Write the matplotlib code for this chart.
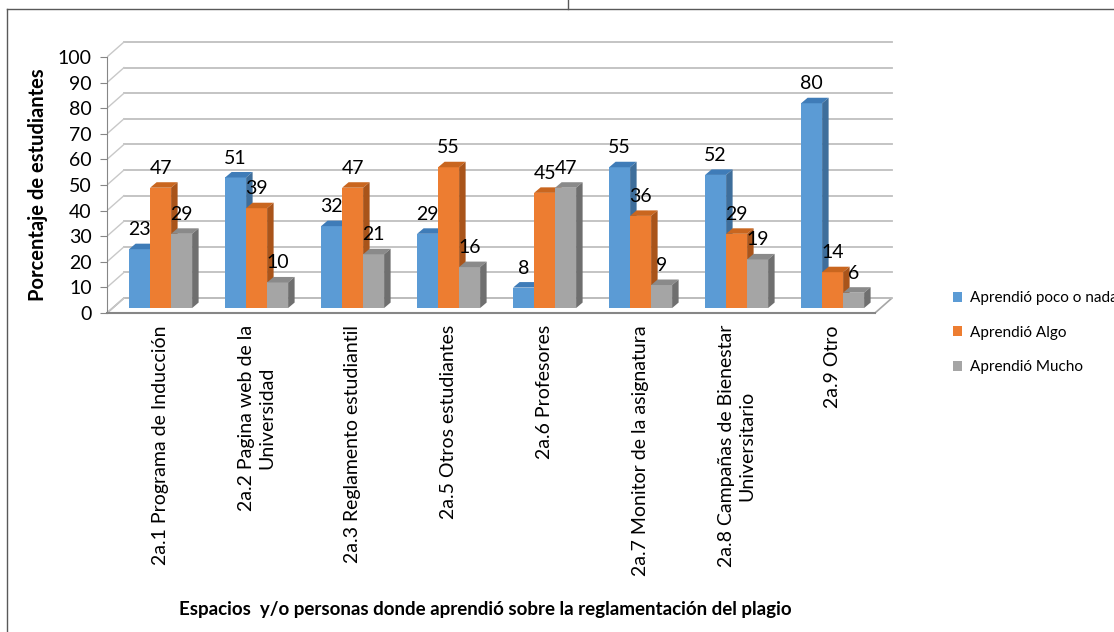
import matplotlib
matplotlib.use("Agg")
import matplotlib.pyplot as plt
from matplotlib.patches import Polygon, Patch
from matplotlib.lines import Line2D

plt.rcParams['font.family'] = ['Lato', 'DejaVu Sans']

categorias = [
    "2a.1 Programa de Inducción",
    "2a.2 Pagina web de la\nUniversidad",
    "2a.3 Reglamento estudiantil",
    "2a.5 Otros estudiantes",
    "2a.6 Profesores",
    "2a.7 Monitor de la asignatura",
    "2a.8 Campañas de Bienestar\nUniversitario",
    "2a.9 Otro",
]
series = ["Aprendió poco o nada", "Aprendió Algo", "Aprendió Mucho"]
poco = [23, 51, 32, 29, 8, 55, 52, 80]
algo = [47, 39, 47, 55, 45, 36, 29, 14]
mucho = [29, 10, 21, 16, 47, 9, 19, 6]
valores = [poco, algo, mucho]
yticks = list(range(0, 101, 10))

# colores: cara frontal, tapa, lateral
frente = ['#5B9BD5', '#ED7D31', '#A5A5A5']
tapa = ['#3F7CB8', '#C9661F', '#8A8A8A']
lado = ['#3E6E9B', '#A9541A', '#6F6F6F']

W, H = 1114, 632
fig = plt.figure(figsize=(W / 100, H / 100), dpi=100)
fig.patch.set_facecolor('white')

# ejes: x en categorias (96 px cada una), y en porcentaje (2.56 px por punto)
px_cat, px_pct = 96.0, 2.56
x_px0, y_px0 = 107, 313
ax_w, ax_h = 803, 278
ax = fig.add_axes([x_px0 / W, 1 - y_px0 / H, ax_w / W, ax_h / H])
ax.set_xlim(-0.5, -0.5 + ax_w / px_cat)
ax.set_ylim(0, ax_h / px_pct)
ax.patch.set_alpha(0)

# profundidad de las paredes y de las barras
dxw, dyw = 17 / px_cat, 15 / px_pct
f = 0.33
bx, by = f * dxw, f * dyw
ancho = 21 / px_cat
bdx, bdy = 6.5 / px_cat, 5.5 / px_pct
n = len(categorias)

# piso
piso = Polygon([(-0.5, 0), (n - 0.5, 0), (n - 0.5 + dxw, dyw), (-0.5 + dxw, dyw)],
               closed=True, facecolor='white', edgecolor='#A6A6A6', lw=1.2, zorder=1)
ax.add_patch(piso)

# lineas de cuadricula (pared del fondo y pared lateral)
for v in yticks:
    ax.plot([-0.5 + dxw, n - 0.5 + dxw], [v + dyw, v + dyw], color='#BFBFBF', lw=1.3, zorder=1)
    ax.plot([-0.5, -0.5 + dxw], [v, v + dyw], color='#C8C8C8', lw=1.0, zorder=1)

# barras 3D
for i in range(n):
    for k in range(3):
        v = valores[k][i]
        xc = i + bx + (k - 1) * ancho
        x0, x1 = xc - ancho / 2, xc + ancho / 2
        top = by + v
        ax.bar(xc, v, bottom=by, width=ancho, color=frente[k], lw=0, zorder=3 + i * 3 + k)
        ax.add_patch(Polygon([(x0, top), (x1, top), (x1 + bdx, top + bdy), (x0 + bdx, top + bdy)],
                             closed=True, facecolor=tapa[k], lw=0, zorder=3 + i * 3 + k))
        ax.add_patch(Polygon([(x1, by), (x1, top), (x1 + bdx, top + bdy), (x1 + bdx, by + bdy)],
                             closed=True, facecolor=lado[k], lw=0, zorder=3 + i * 3 + k))
        ax.text(xc, top + 7.6, str(v), ha='center', va='center', fontsize=14,
                color='black', zorder=50)

# ejes
for s in ['top', 'right']:
    ax.spines[s].set_visible(False)
ax.spines['left'].set_bounds(0, 100)
ax.spines['left'].set_color('#868686')
ax.spines['bottom'].set_bounds(-0.5, n - 0.5)
ax.spines['bottom'].set_color('#868686')
ax.spines['bottom'].set_linewidth(1.5)
ax.set_yticks(yticks)
ax.set_yticklabels([str(t) for t in yticks], fontsize=14)
ax.tick_params(axis='y', length=5, color='#868686', pad=6)
ax.set_xticks([])

# etiquetas de categoria
for i, c in enumerate(categorias):
    ax.text(i + bx, -4.7, c, rotation=90, ha='center', va='top', multialignment='center',
            fontsize=14)

fig.text(38 / W, 1 - 185 / H, 'Porcentaje de estudiantes', rotation=90, ha='center',
         va='center', fontsize=14.5, fontweight='bold')
fig.text(485 / W, 1 - 610 / H,
         'Espacios  y/o personas donde aprendió sobre la reglamentación del plagio',
         ha='center', va='center', fontsize=13.5, fontweight='bold')

handles = [Patch(facecolor=frente[k], edgecolor='none', label=series[k]) for k in range(3)]
fig.legend(handles=handles, loc='upper left', bbox_to_anchor=(947 / W, 1 - 285 / H),
           frameon=False, fontsize=11, handlelength=0.6, handleheight=0.6,
           handletextpad=0.5, labelspacing=1.35, borderaxespad=0)

# marco exterior
for xs, ys in [([6.5, 6.5], [9, H]), ([6.5, W], [9, 9]), ([568, 568], [0, 9])]:
    fig.add_artist(Line2D([x / W for x in xs], [1 - y / H for y in ys],
                          transform=fig.transFigure, color='#595959', lw=1.0))

fig.savefig('out.png', dpi=100)
